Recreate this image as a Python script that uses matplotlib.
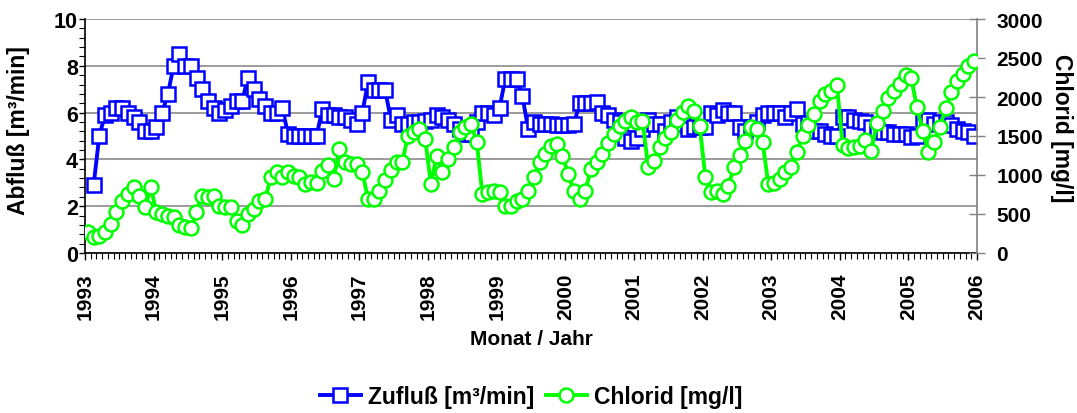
import numpy as np
import matplotlib
matplotlib.use("Agg")
import matplotlib.pyplot as plt
from matplotlib.ticker import MultipleLocator

plt.rcParams['font.family'] = ['Liberation Sans', 'DejaVu Sans']
plt.rcParams['font.weight'] = 'bold'

years = ["1993", "1994", "1995", "1996", "1997", "1998", "1999", "2000",
         "2001", "2002", "2003", "2004", "2005", "2006"]

# Monthly values Jan 1993 .. Dec 2005
zufluss = [np.nan, 2.9, 5.0, 5.9, 6.0, 6.2, 6.2, 6.0, 5.8, 5.6, 5.2, 5.2,
           5.4, 6.0, 6.8, 8.0, 8.5, 8.0, 8.0, 7.5, 7.0, 6.5, 6.2, 6.0,
           6.1, 6.3, 6.5, 6.5, 7.5, 7.0, 6.6, 6.3, 6.0, 6.0, 6.2, 5.1,
           5.0, 5.0, 5.0, 5.0, 5.0, 6.15, 5.9, 5.9, 5.8, 5.8, 5.7, 5.5,
           6.0, 7.3, 6.95, 6.95, 6.95, 5.7, 5.9, 5.5, 5.5, 5.6, 5.6, 5.65,
           5.7, 5.9, 5.8, 5.7, 5.5, 5.3, 5.1, 5.1, 5.6, 6.0, 6.0, 5.9,
           6.2, 7.45, 7.45, 7.45, 6.7, 5.3, 5.6, 5.5, 5.5, 5.5, 5.45, 5.45,
           5.45, 5.5, 6.4, 6.4, 6.4, 6.45, 6.0, 5.9, 5.7, 5.6, 4.9, 4.8,
           4.9, 5.3, 5.7, 5.5, 5.5, 5.2, 5.6, 5.8, 5.5, 5.3, 5.4, 5.4,
           5.4, 6.0, 5.9, 6.1, 6.0, 6.0, 5.4, 5.2, 5.4, 5.6, 5.9, 6.0,
           6.0, 6.0, 5.8, 6.0, 6.15, 5.5, 5.55, 5.2, 5.2, 5.1, 5.0, 5.0,
           5.8, 5.8, 5.7, 5.65, 5.6, 5.4, 5.2, 5.15, 5.15, 5.1, 5.1, 5.1,
           4.95, 5.0, 5.65, 5.7, 5.5, 5.6, 5.6, 5.45, 5.3, 5.2, 5.15, 5.0]

chlorid = [265, 200, 214, 265, 372, 521, 671, 756, 842, 726, 585, 842,
           521, 500, 479, 457, 359, 329, 316, 530, 735, 714, 735, 607,
           585, 585, 415, 359, 500, 564, 671, 692, 970, 1034, 970, 1034,
           991, 970, 885, 906, 897, 1055, 1130, 949, 1333, 1162, 1141, 1141,
           1043, 692, 692, 799, 940, 1068, 1162, 1171, 1504, 1547, 1590, 1462,
           885, 1248, 1043, 1205, 1355, 1547, 1611, 1654, 1427, 756, 778, 799,
           778, 607, 598, 671, 692, 799, 970, 1162, 1269, 1376, 1400, 1250,
           1013, 799, 692, 799, 1077, 1162, 1269, 1410, 1526, 1632, 1697, 1739,
           1675, 1697, 1098, 1184, 1355, 1470, 1556, 1709, 1803, 1880, 1825, 1624,
           970, 778, 799, 756, 863, 1098, 1256, 1440, 1611, 1590, 1427, 885,
           897, 949, 1034, 1098, 1290, 1504, 1641, 1782, 1953, 2038, 2081, 2154,
           1385, 1342, 1355, 1376, 1453, 1312, 1667, 1825, 1983, 2081, 2167, 2282,
           2239, 1868, 1568, 1299, 1427, 1611, 1855, 2068, 2209, 2300, 2400, 2466]

n = len(chlorid)
x = np.arange(n) + 0.5

fig = plt.figure(figsize=(10.77, 4.14), dpi=100)
ax = fig.add_axes([85/1077, 1-254/414, 892/1077, 234/414])
ax2 = ax.twinx()

FS = 15
FL = 16.5
blue = '#0000FF'
green = '#00FF00'

ax.plot(x, zufluss, color=blue, lw=2.8, marker='s', ms=9.5, mfc='white',
        mec=blue, mew=1.8, label='Zufluß [m³/min]', zorder=3)
ax2.plot(x, chlorid, color=green, lw=2.8, marker='o', ms=10, mfc='white',
         mec=green, mew=1.8, label='Chlorid [mg/l]', zorder=3)

ax.set_xlim(0, n)
ax.set_ylim(0, 10)
ax2.set_ylim(0, 3000)

ax.set_yticks([0, 2, 4, 6, 8, 10])
ax.yaxis.set_minor_locator(MultipleLocator(0.4))
ax.grid(axis='y', which='major', color='#808080', lw=1.1)
ax.set_axisbelow(True)

ax.set_xticks(np.arange(0, n + 1, 12))
ax.set_xticklabels(years, rotation=90, fontsize=FS, fontweight='bold')
ax.xaxis.set_minor_locator(MultipleLocator(1))
ax.tick_params(axis='x', which='major', length=5, width=1, pad=9, color='black')
ax.tick_params(axis='x', which='minor', length=4, width=0.8, color='black')
ax.tick_params(axis='y', which='major', length=4, width=1, pad=1, labelsize=FS + 0.5)
ax.tick_params(axis='y', which='minor', length=4, width=0.8)
for lab in ax.get_yticklabels():
    lab.set_fontweight('bold')

ax2.set_yticks([0, 500, 1000, 1500, 2000, 2500, 3000])
ax2.tick_params(axis='y', which='major', direction='inout', length=12, width=1,
                color='#808080', pad=8, labelsize=FS)
for lab in ax2.get_yticklabels():
    lab.set_fontweight('bold')

for a in (ax, ax2):
    for s in a.spines.values():
        s.set_visible(False)
ax.spines['left'].set_visible(True)
ax.spines['left'].set_color('black')
ax.spines['left'].set_linewidth(1.2)
ax.spines['bottom'].set_visible(True)
ax.spines['bottom'].set_color('black')
ax.spines['bottom'].set_linewidth(1.2)
ax2.spines['right'].set_visible(True)
ax2.spines['right'].set_color('#808080')
ax2.spines['right'].set_linewidth(1.2)

fig.text(19/1077, 1-131/414, 'Abfluß [m³/min]', rotation=90, ha='center',
         va='center', fontsize=FL, fontweight='bold')
fig.text(1062/1077, 1-128/414, 'Chlorid [mg/l]', rotation=270, ha='center',
         va='center', fontsize=FL, fontweight='bold')

fig.text(531/1077, 1-340/414, 'Monat / Jahr', ha='center', va='center',
         fontsize=FS, fontweight='bold')

h1, l1 = ax.get_legend_handles_labels()
h2, l2 = ax2.get_legend_handles_labels()
fig.legend(h1 + h2, l1 + l2, loc='center', bbox_to_anchor=(531/1077, 1-398/414),
           ncol=2, frameon=False, prop={'size': FL, 'weight': 'bold'},
           handlelength=1.8, columnspacing=0.5, handletextpad=0.3)

fig.savefig('out.png', dpi=100)
